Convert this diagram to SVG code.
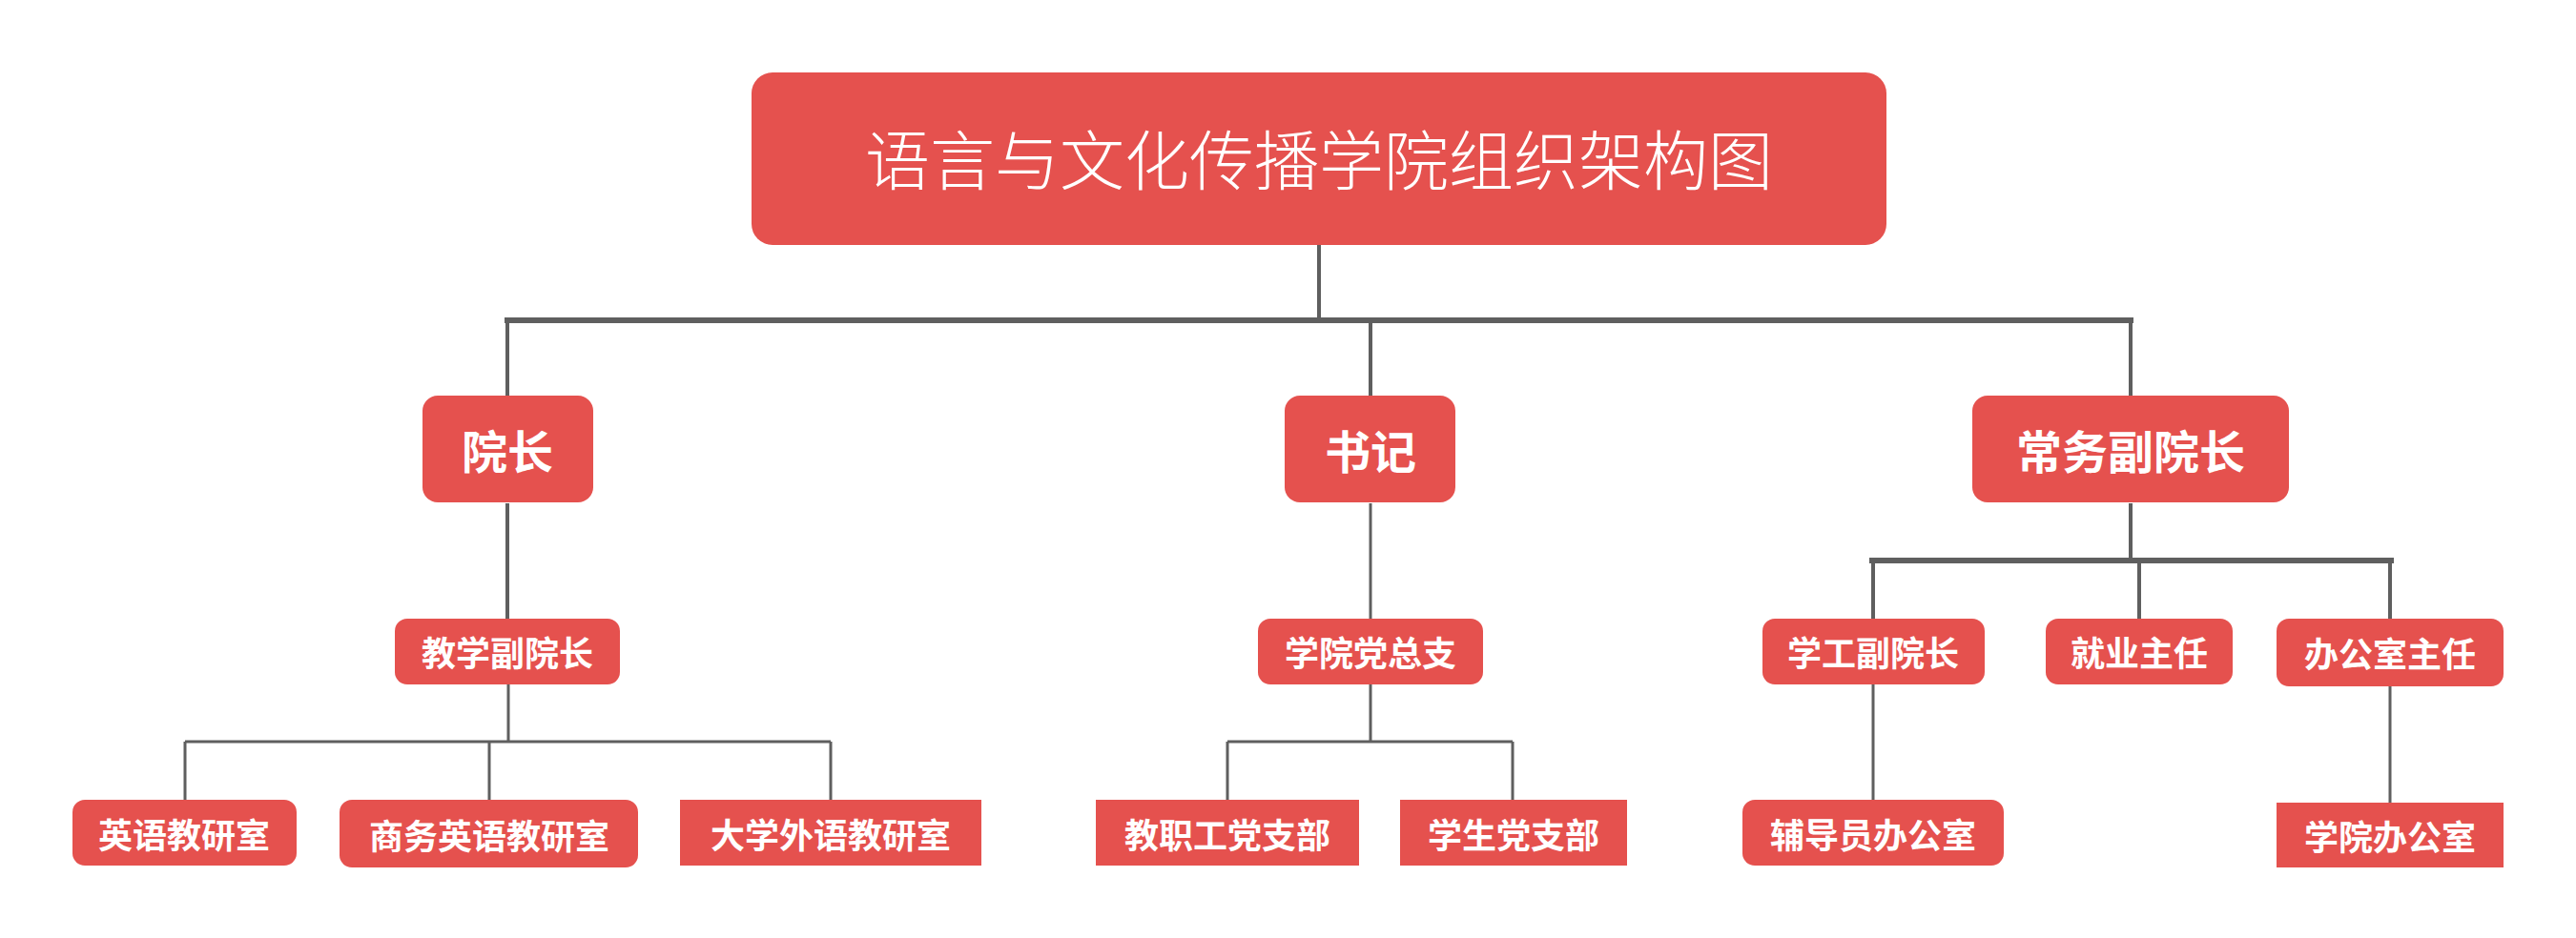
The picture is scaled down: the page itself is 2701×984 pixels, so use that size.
<svg xmlns="http://www.w3.org/2000/svg" width="2701" height="984" viewBox="0 0 2701 984">
<style>
.n{fill:#E5514E}
.t{fill:#fff;font-family:"Noto Sans CJK SC","Noto Sans",sans-serif;text-anchor:middle;dominant-baseline:central;font-weight:bold}
.c{fill:none;stroke:#5f5f5f}
</style>
<rect width="2701" height="984" fill="#fff"/>
<g id="connectors">
<path class="c" stroke-width="4" d="M1383 257V336"/>
<path class="c" stroke-width="6" d="M529 336H2237"/>
<path class="c" stroke-width="4" d="M532 336V415M1437 336V415M2234 336V415"/>
<path class="c" stroke-width="4" d="M532 528V649M2234 528V588"/>
<path class="c" stroke-width="3" stroke="#7a7a7a" d="M1437 528V649"/>
<path class="c" stroke-width="6" d="M1960 588H2510"/>
<path class="c" stroke-width="4" d="M1964 588V649M2243 588V649M2506 588V649"/>
<path class="c" stroke-width="3" d="M533 718V778M194 778H871M194 778V839M513 778V839M871 778V839"/>
<path class="c" stroke-width="3" stroke="#8a8a8a" d="M1437 718V778M1287 778H1586M1287 778V839M1586 778V839"/>
<path class="c" stroke-width="3" d="M1964 718V839M2506 720V842"/>
</g>
<g id="title"><rect class="n" x="788" y="76" width="1190" height="181" rx="22"/><text class="t" x="1383" y="164" font-size="68" font-weight="300" style="font-weight:300">语言与文化传播学院组织架构图</text></g>
<g id="n1"><rect class="n" x="443" y="415" width="179" height="112" rx="16"/><text class="t" x="532" y="471" font-size="48">院长</text></g>
<g id="n2"><rect class="n" x="1347" y="415" width="179" height="112" rx="16"/><text class="t" x="1437" y="471" font-size="48">书记</text></g>
<g id="n3"><rect class="n" x="2068" y="415" width="332" height="112" rx="16"/><text class="t" x="2234" y="471" font-size="48">常务副院长</text></g>
<g id="n4"><rect class="n" x="414" y="649" width="236" height="69" rx="13"/><text class="t" x="532" y="683" font-size="36">教学副院长</text></g>
<g id="n5"><rect class="n" x="1319" y="649" width="236" height="69" rx="13"/><text class="t" x="1437" y="683" font-size="36">学院党总支</text></g>
<g id="n6"><rect class="n" x="1848" y="649" width="233" height="69" rx="13"/><text class="t" x="1964" y="683" font-size="36">学工副院长</text></g>
<g id="n7"><rect class="n" x="2145" y="649" width="196" height="69" rx="13"/><text class="t" x="2243" y="683" font-size="36">就业主任</text></g>
<g id="n8"><rect class="n" x="2387" y="649" width="238" height="71" rx="13"/><text class="t" x="2506" y="684" font-size="36">办公室主任</text></g>
<g id="n9"><rect class="n" x="76" y="839" width="235" height="69" rx="13"/><text class="t" x="193" y="874" font-size="36">英语教研室</text></g>
<g id="n10"><rect class="n" x="356" y="839" width="313" height="71" rx="13"/><text class="t" x="513" y="875" font-size="36">商务英语教研室</text></g>
<g id="n11"><rect class="n" x="713" y="839" width="316" height="69"/><text class="t" x="871" y="874" font-size="36">大学外语教研室</text></g>
<g id="n12"><rect class="n" x="1149" y="839" width="276" height="69"/><text class="t" x="1287" y="874" font-size="36">教职工党支部</text></g>
<g id="n13"><rect class="n" x="1468" y="839" width="238" height="69"/><text class="t" x="1587" y="874" font-size="36">学生党支部</text></g>
<g id="n14"><rect class="n" x="1827" y="839" width="274" height="69" rx="13"/><text class="t" x="1964" y="874" font-size="36">辅导员办公室</text></g>
<g id="n15"><rect class="n" x="2387" y="842" width="238" height="68"/><text class="t" x="2506" y="876" font-size="36">学院办公室</text></g>
</svg>
